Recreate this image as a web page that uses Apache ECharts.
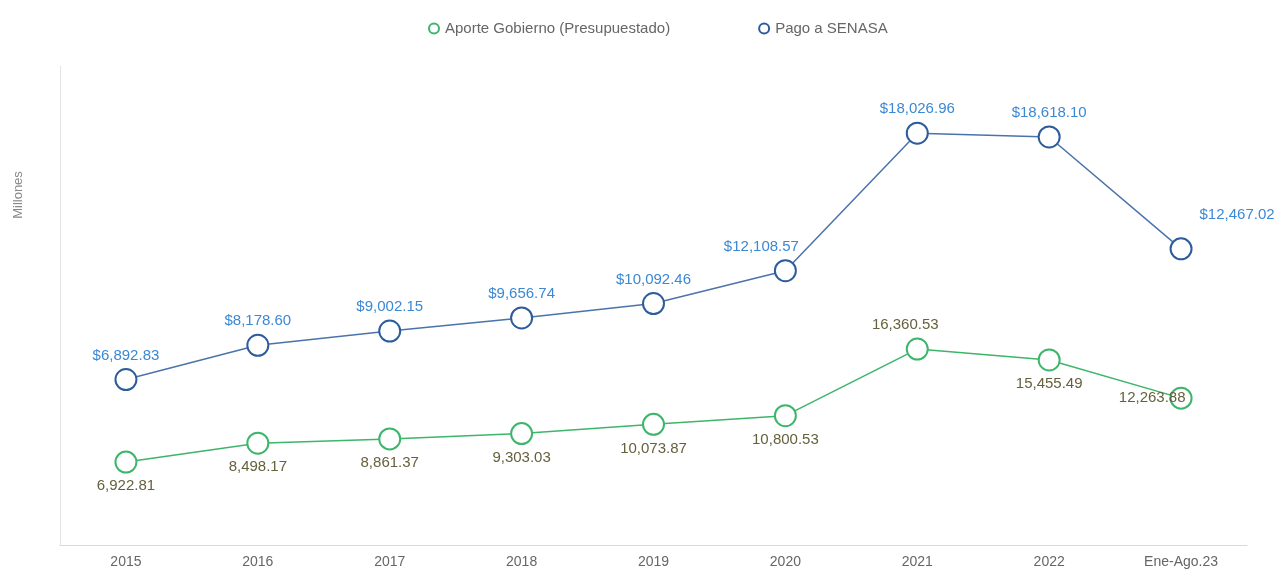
<!DOCTYPE html>
<html>
<head>
<meta charset="utf-8">
<script src="https://cdn.jsdelivr.net/npm/echarts@6/dist/echarts.min.js"></script>
<style>
    html, body { margin: 0; padding: 0; background: #fff; }
    #chart { width: 1280px; height: 573px; }
</style>
</head>
<body>
<div id="chart"></div>
<script>
const categories = ["2015", "2016", "2017", "2018", "2019", "2020", "2021", "2022", "Ene-Ago.23"];
const aporteGobierno = [6922.81, 8498.17, 8861.37, 9303.03, 10073.87, 10800.53, 16360.53, 15455.49, 12263.88];
const pagoSenasa = [6892.83, 8178.60, 9002.15, 9656.74, 10092.46, 12108.57, 18026.96, 18618.10, 12467.02];

const GREEN = "#3db56a";
const BLUE = "#2d5c9c";

function fmt(v) {
    return v.toLocaleString("en-US", { minimumFractionDigits: 2, maximumFractionDigits: 2 });
}

/* label placement tweaks per point */
const greenLabel = {
    6: { position: "top", offset: [-12, 0] },
    8: { position: "left", offset: [21, 0] }
};
const blueLabel = {
    5: { offset: [-24, 0] },
    8: { offset: [56, -10] }
};

const chart = echarts.init(document.getElementById("chart"));

chart.setOption({
    animation: false,
    textStyle: { fontFamily: "Liberation Sans, Arial, sans-serif" },
    legend: {
        top: 16,
        left: 423,
        itemGap: 88,
        itemWidth: 12,
        itemHeight: 10,
        textStyle: { color: "#666", fontSize: 15 },
        data: [
            { name: "Aporte Gobierno (Presupuestado)", icon: "emptyCircle" },
            { name: "Pago a SENASA", icon: "emptyCircle" }
        ]
    },
    grid: { left: 60, right: 33, top: 66, bottom: 28 },
    xAxis: {
        type: "category",
        data: categories,
        boundaryGap: true,
        axisLine: { lineStyle: { color: "#d9d9d9" } },
        axisTick: { length: 3, lineStyle: { color: "#d9d9d9" } },
        axisLabel: { color: "#666", fontSize: 14, margin: 10 }
    },
    yAxis: {
        type: "value",
        min: 0,
        max: 40000,
        axisLine: { show: true, lineStyle: { color: "#e3e3e3" } },
        axisTick: { show: false },
        axisLabel: { show: false },
        splitLine: { show: false }
    },
    graphic: [{
        type: "text",
        x: 18,
        y: 195,
        rotation: Math.PI / 2,
        style: {
            text: "Millones",
            fill: "#888",
            fontSize: 13,
            fontFamily: "Liberation Sans, Arial, sans-serif",
            align: "center",
            verticalAlign: "middle"
        }
    }],
    series: [
        {
            name: "Aporte Gobierno (Presupuestado)",
            type: "line",
            stack: "total",
            symbol: "emptyCircle",
            symbolSize: 21,
            itemStyle: { color: GREEN, borderWidth: 2 },
            lineStyle: { color: GREEN, width: 1.5 },
            label: {
                show: true,
                position: "bottom",
                color: "#65613c",
                fontSize: 15,
                formatter: p => fmt(p.value)
            },
            data: aporteGobierno.map((v, i) => ({ value: v, label: greenLabel[i] || {} }))
        },
        {
            name: "Pago a SENASA",
            type: "line",
            stack: "total",
            symbol: "emptyCircle",
            symbolSize: 21,
            itemStyle: { color: BLUE, borderWidth: 2 },
            lineStyle: { color: "#4a73aa", width: 1.5 },
            label: {
                show: true,
                position: "top",
                color: "#3b88d4",
                fontSize: 15,
                formatter: p => "$" + fmt(p.value)
            },
            data: pagoSenasa.map((v, i) => ({ value: v, label: blueLabel[i] || {} }))
        }
    ]
});
</script>
</body>
</html>
